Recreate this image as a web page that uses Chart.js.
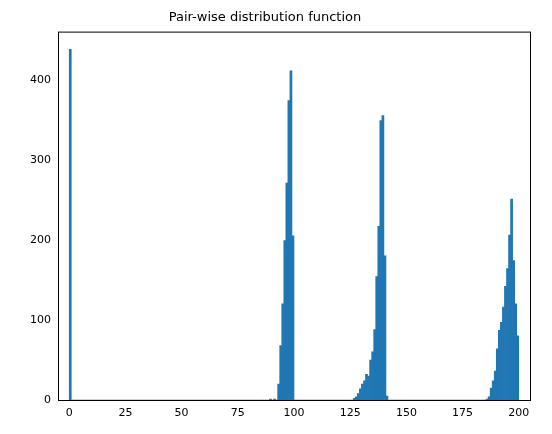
<!DOCTYPE html>
<html>
<head>
<meta charset="utf-8">
<script src="https://cdn.jsdelivr.net/npm/chart.js@4"></script>
<style>
  body { margin: 0; background: #fff; }
  #wrap { width: 552px; height: 434px; }
</style>
</head>
<body>
<div id="wrap"><canvas id="c"></canvas></div>
<script>
// histogram: 220 bins over 0..200, only non-empty bins listed
const binCount = 220;
const binWidth = 200 / binCount;
const binIndex = [0,
  98, 100, 102, 103, 104, 105, 106, 107, 108, 109,
  139, 140, 141, 142, 143, 144, 145, 146, 147, 148, 149, 150, 151, 152, 153, 154, 155,
  204, 205, 206, 207, 208, 209, 210, 211, 212, 213, 214, 215, 216, 217, 218, 219];
const binCounts = [438,
  1, 1, 20, 68, 120, 199, 271, 374, 411, 205,
  2, 4, 8, 14, 20, 24, 32, 30, 50, 60, 88, 154, 217, 349, 355, 180, 5,
  1, 4, 15, 24, 36, 64, 87, 97, 116, 142, 164, 206, 251, 174, 120, 80];
const xTicks = [0, 25, 50, 75, 100, 125, 150, 175, 200];
const yTicks = [0, 100, 200, 300, 400];

const counts = new Array(binCount).fill(0);
binIndex.forEach((b, i) => { counts[b] = binCounts[i]; });
const points = counts.map((v, i) => ({ x: (i + 0.5) * binWidth, y: v }));

const frame = {
  id: "frame",
  afterDraw(chart) {
    const a = chart.chartArea, ctx = chart.ctx;
    ctx.save();
    ctx.strokeStyle = "#000";
    ctx.lineWidth = 1;
    ctx.strokeRect(a.left + 0.5, a.top + 0.5, a.right - a.left, a.bottom - a.top);
    ctx.restore();
  }
};

new Chart(document.getElementById("c"), {
  type: "bar",
  data: {
    datasets: [{
      data: points,
      backgroundColor: "#1f77b4",
      barPercentage: 1,
      categoryPercentage: 1,
      borderWidth: 0
    }]
  },
  options: {
    responsive: true,
    maintainAspectRatio: false,
    animation: false,
    layout: { padding: { left: 0, right: 22, top: 0, bottom: 0 } },
    plugins: {
      legend: { display: false },
      tooltip: { enabled: false },
      title: {
        display: true,
        text: "Pair-wise distribution function",
        color: "#000",
        font: { family: "DejaVu Sans", size: 13, weight: "normal" },
        padding: { top: 10, bottom: 6 }
      }
    },
    scales: {
      x: {
        type: "linear",
        offset: false,
        min: -5,
        max: 205,
        afterBuildTicks: s => { s.ticks = xTicks.map(v => ({ value: v })); },
        grid: { display: false, offset: false, drawTicks: true, tickLength: 4, tickColor: "#000" },
        border: { display: false },
        ticks: { color: "#000", font: { family: "DejaVu Sans", size: 11 }, maxRotation: 0, padding: 3 },
        afterFit: s => { s.height = 34; }
      },
      y: {
        min: 0,
        max: 460,
        afterBuildTicks: s => { s.ticks = yTicks.map(v => ({ value: v })); },
        ticks: { color: "#000", font: { family: "DejaVu Sans", size: 11 }, padding: 3 },
        grid: { display: false, drawTicks: true, tickLength: 4, tickColor: "#000" },
        border: { display: false },
        afterFit: s => { s.width = 58; }
      }
    }
  },
  plugins: [frame]
});
</script>
</body>
</html>
